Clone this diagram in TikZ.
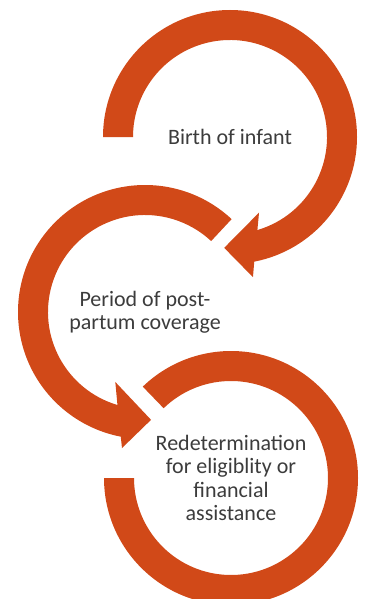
\documentclass[tikz,border=0pt]{standalone}
\usepackage{fontspec}
\setmainfont{Carlito}
\usetikzlibrary{positioning}
\definecolor{ringorange}{RGB}{209,73,24}
\definecolor{textgray}{RGB}{60,60,60}
\tikzset{
    ring/.style={
        fill=ringorange,
        draw=none
    },
    stage/.style={
        text=textgray,
        align=center,
        font=\fontsize{22}{23.5}\selectfont,
        inner sep=0pt
    }
}

\begin{document}
\begin{tikzpicture}[x=1pt, y=1pt]
    \useasboundingbox (0,0) rectangle (365,-599);

    % Stages
    \node[stage] (birth) at (230,-137) {Birth of infant};
    \node[stage] (postpartum) at (145,-312) {Period of post-\\partum coverage};
    \node[stage] (redet) at (231,-478) {Redetermination\\for eligiblity or\\financial\\assistance};

    % Rings
    \begin{scope}[shift={(birth.center)}]
        \fill[ring] (180:127) arc[start angle=180, end angle=-79, radius=127]
            -- (-80.7:142) -- (-93:111) -- (-69:81) -- (-73.6:97)
            arc[start angle=-73.6, end angle=180, radius=97] -- cycle;
    \end{scope}
    \begin{scope}[shift={(postpartum.center)}]
        \fill[ring] (47:127) arc[start angle=47, end angle=259, radius=127]
            -- (260.4:138) -- (273.2:108) -- (247:76) -- (253.5:97)
            arc[start angle=253.5, end angle=47, radius=97] -- cycle;
    \end{scope}
    \begin{scope}[shift={(redet.center)}]
        \fill[ring] (180:127) arc[start angle=180, end angle=494, radius=127]
            -- (494:97)
            arc[start angle=494, end angle=180, radius=97] -- cycle;
    \end{scope}
\end{tikzpicture}
\end{document}
